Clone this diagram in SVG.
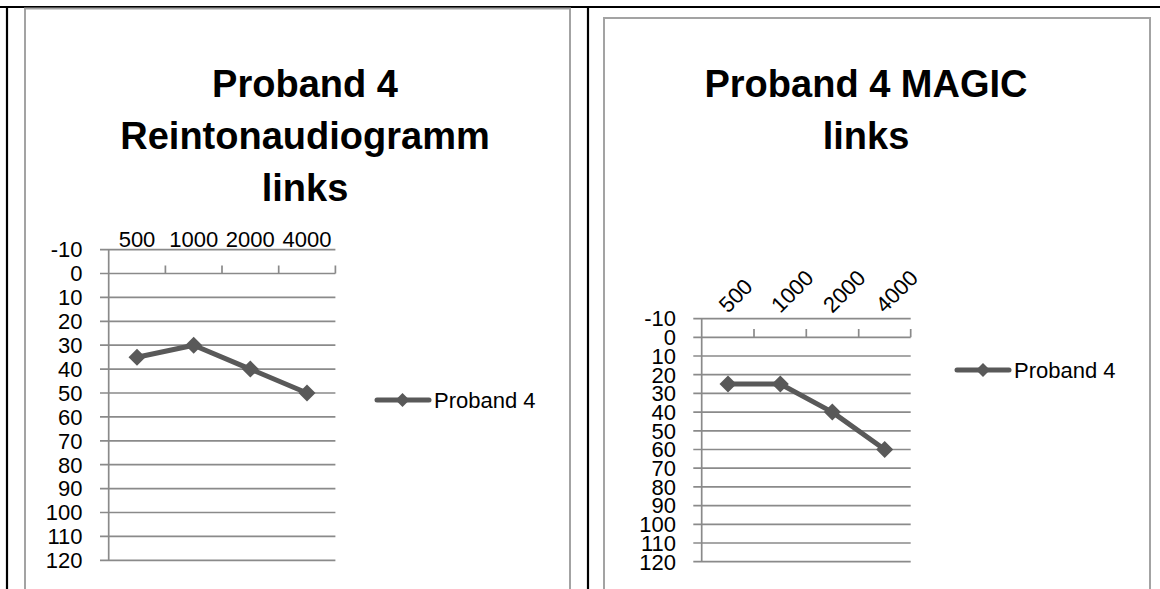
<svg xmlns="http://www.w3.org/2000/svg" width="1160" height="589" viewBox="0 0 1160 589">
<style>
.frame{fill:#ffffff;stroke:#a3a3a3;stroke-width:2}
.tbl{stroke:#000;stroke-width:2.2;fill:none}
.grid{stroke:#8a8a8a;stroke-width:1.7;fill:none}
.series{stroke:#595959;stroke-width:5;fill:none;stroke-linejoin:round}
.mk{fill:#595959}
.lbl{font-family:"Liberation Sans",Arial,sans-serif;font-size:22px;fill:#000}
.yl{text-anchor:end}
.xl{text-anchor:middle}
.ttl{font-family:"Liberation Sans",Arial,sans-serif;font-size:38px;font-weight:bold;fill:#000;text-anchor:middle}
</style>
<defs>
<path id="dia" d="M0,-8.5 L8.5,0 L0,8.5 L-8.5,0 Z"/>
<path id="dias" d="M0,-7 L7,0 L0,7 L-7,0 Z"/>
</defs>
<rect x="0" y="0" width="1160" height="589" fill="#fff"/>
<g id="table">
<line class="tbl" x1="0" y1="7" x2="1160" y2="7"/>
<line class="tbl" x1="7" y1="7" x2="7" y2="589"/>
<line class="tbl" x1="588" y1="7" x2="588" y2="589"/>
</g>
<g id="chart-left">
<rect class="frame" x="25" y="8.5" width="545" height="600"/>
<g id="title-left">
<text class="ttl" x="305" y="97">Proband 4</text>
<text class="ttl" x="305" y="149">Reintonaudiogramm</text>
<text class="ttl" x="305" y="201">links</text>
</g>
<g id="grid-left">
<path class="grid" d="M100,249.6H335.4M100,273.5H335.4M100,297.4H335.4M100,321.3H335.4M100,345.2H335.4M100,369.1H335.4M100,393H335.4M100,416.9H335.4M100,440.8H335.4M100,464.7H335.4M100,488.6H335.4M100,512.5H335.4M100,536.4H335.4M100,560.3H335.4"/>
<path class="grid" d="M108.7,249.6V560.3M165.4,265.5V273.5M222,265.5V273.5M278.7,265.5V273.5M335.4,265.5V273.5"/>
</g>
<g id="ylabels-left" class="lbl yl">
<text x="82.5" y="257.4">-10</text>
<text x="82.5" y="281.3">0</text>
<text x="82.5" y="305.2">10</text>
<text x="82.5" y="329.1">20</text>
<text x="82.5" y="353">30</text>
<text x="82.5" y="376.9">40</text>
<text x="82.5" y="400.8">50</text>
<text x="82.5" y="424.7">60</text>
<text x="82.5" y="448.6">70</text>
<text x="82.5" y="472.5">80</text>
<text x="82.5" y="496.4">90</text>
<text x="82.5" y="520.3">100</text>
<text x="82.5" y="544.2">110</text>
<text x="82.5" y="568.1">120</text>
</g>
<g id="xlabels-left" class="lbl xl">
<text x="137" y="247">500</text>
<text x="193.7" y="247">1000</text>
<text x="250.3" y="247">2000</text>
<text x="307" y="247">4000</text>
</g>
<g id="series-left">
<polyline class="series" points="137,357.2 193.7,345.2 250.3,369.1 307,393"/>
<use href="#dia" class="mk" x="137" y="357.2"/>
<use href="#dia" class="mk" x="193.7" y="345.2"/>
<use href="#dia" class="mk" x="250.3" y="369.1"/>
<use href="#dia" class="mk" x="307" y="393"/>
</g>
<g id="legend-left">
<line class="series" x1="377" y1="400" x2="429" y2="400" stroke-width="4" stroke-linecap="round"/>
<use href="#dias" class="mk" x="402.5" y="400"/>
<text class="lbl" x="434" y="408">Proband 4</text>
</g>
</g>
<g id="chart-right">
<rect class="frame" x="604" y="18" width="546" height="600"/>
<g id="title-right">
<text class="ttl" x="866" y="97">Proband 4 MAGIC</text>
<text class="ttl" x="866" y="149">links</text>
</g>
<g id="grid-right">
<path class="grid" d="M693.3,318.6H910.7M693.3,337.3H910.7M693.3,356H910.7M693.3,374.7H910.7M693.3,393.4H910.7M693.3,412.1H910.7M693.3,430.8H910.7M693.3,449.5H910.7M693.3,468.2H910.7M693.3,486.9H910.7M693.3,505.6H910.7M693.3,524.3H910.7M693.3,543H910.7M693.3,561.7H910.7"/>
<path class="grid" d="M701.7,318.6V561.7M754,329V337.3M806.3,329V337.3M858.7,329V337.3M910.7,329V337.3"/>
</g>
<g id="ylabels-right" class="lbl yl">
<text x="676" y="326.4">-10</text>
<text x="676" y="345.1">0</text>
<text x="676" y="363.8">10</text>
<text x="676" y="382.5">20</text>
<text x="676" y="401.2">30</text>
<text x="676" y="419.9">40</text>
<text x="676" y="438.6">50</text>
<text x="676" y="457.3">60</text>
<text x="676" y="476">70</text>
<text x="676" y="494.7">80</text>
<text x="676" y="513.4">90</text>
<text x="676" y="532.1">100</text>
<text x="676" y="550.8">110</text>
<text x="676" y="569.5">120</text>
</g>
<g id="xlabels-right" class="lbl">
<text transform="translate(728,314) rotate(-45)">500</text>
<text transform="translate(780.3,314) rotate(-45)">1000</text>
<text transform="translate(832.3,314) rotate(-45)">2000</text>
<text transform="translate(884.7,314) rotate(-45)">4000</text>
</g>
<g id="series-right">
<polyline class="series" points="728,384 780.3,384 832.3,412.1 884.7,449.5"/>
<use href="#dia" class="mk" x="728" y="384"/>
<use href="#dia" class="mk" x="780.3" y="384"/>
<use href="#dia" class="mk" x="832.3" y="412.1"/>
<use href="#dia" class="mk" x="884.7" y="449.5"/>
</g>
<g id="legend-right">
<line class="series" x1="957" y1="370" x2="1009" y2="370" stroke-width="4" stroke-linecap="round"/>
<use href="#dias" class="mk" x="983" y="370"/>
<text class="lbl" x="1014" y="378">Proband 4</text>
</g>
</g>
</svg>
